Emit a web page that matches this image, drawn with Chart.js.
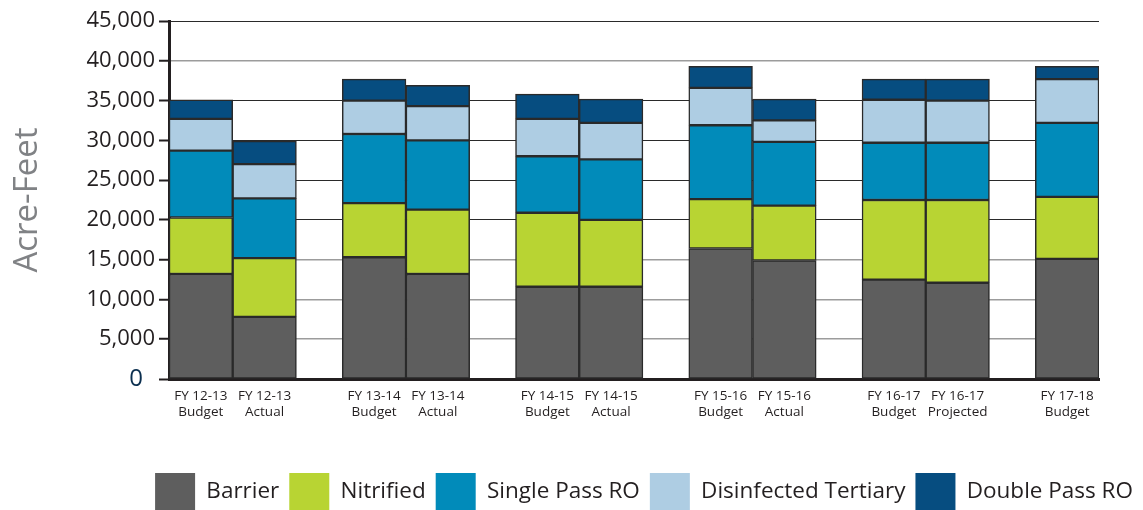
<!DOCTYPE html>
<html>
<head>
<meta charset="utf-8">
<script src="https://cdn.jsdelivr.net/npm/chart.js@4.4.0/dist/chart.umd.min.js"></script>
<style>
  html, body { margin: 0; padding: 0; background: #fff; }
  #wrap { width: 1143px; height: 510px; }
</style>
</head>
<body>
<div id="wrap"><canvas id="waterChart"></canvas></div>
<script>
// one entry per bar, two label lines each
const categories = [
    ['FY 12-13', 'Budget'], ['FY 12-13', 'Actual'],
    ['FY 13-14', 'Budget'], ['FY 13-14', 'Actual'],
    ['FY 14-15', 'Budget'], ['FY 14-15', 'Actual'],
    ['FY 15-16', 'Budget'], ['FY 15-16', 'Actual'],
    ['FY 16-17', 'Budget'], ['FY 16-17', 'Projected'],
    ['FY 17-18', 'Budget']
];
// fiscal year group of each bar (bars of one year sit side by side)
const yearGroup = [0, 0, 1, 1, 2, 2, 3, 3, 4, 4, 5];

// acre-feet per segment
const barrier      = [13200, 7800, 15300, 13200, 11600, 11600, 16400, 14900, 12500, 12100, 15100];
const nitrified    = [7100, 7400, 6800, 8100, 9300, 8400, 6200, 6900, 10000, 10400, 7800];
const singlePassRO = [8400, 7500, 8700, 8700, 7100, 7600, 9300, 8000, 7200, 7200, 9300];
const disinfected  = [4000, 4300, 4200, 4300, 4700, 4600, 4700, 2700, 5400, 5300, 5500];
const doublePassRO = [2400, 2900, 2700, 2600, 3100, 3000, 2700, 2700, 2600, 2700, 1600];

const yTicks = [0, 5000, 10000, 15000, 20000, 25000, 30000, 35000, 40000, 45000];
const lightGridValues = [5000, 10000, 15000, 40000];

const GROUP_STEP = 2.72;   // distance between fiscal years, in bar widths
const FONT = 'Open Sans';
const INK = '#231f20';

const barX = categories.map((c, i) => yearGroup[i] * GROUP_STEP + (i - 2 * yearGroup[i]));

function series(label, values, color) {
    return {
        label: label,
        data: values.map((v, i) => ({ x: barX[i], y: v })),
        backgroundColor: color,
        borderColor: '#2a2a2a',
        borderWidth: 1.5,
        borderSkipped: false,
        barPercentage: 1,
        categoryPercentage: 1
    };
}

function initChart() {
    const ctx = document.getElementById('waterChart').getContext('2d');
    return new Chart(ctx, {
        type: 'bar',
        data: {
            datasets: [
                series('Barrier', barrier, '#5e5e5e'),
                series('Nitrified', nitrified, '#b8d433'),
                series('Single Pass RO', singlePassRO, '#018bba'),
                series('Disinfected Tertiary', disinfected, '#aecde3'),
                series('Double Pass RO', doublePassRO, '#064d80')
            ]
        },
        options: {
            animation: false,
            responsive: true,
            maintainAspectRatio: false,
            devicePixelRatio: 1,
            layout: { padding: { left: 0, right: 0, top: 21, bottom: -10 } },
            scales: {
                x: {
                    type: 'linear',
                    stacked: true,
                    offset: false,
                    min: -0.5,
                    max: barX[barX.length - 1] + 0.5,
                    afterBuildTicks: (scale) => { scale.ticks = barX.map(v => ({ value: v })); },
                    afterFit: (scale) => { scale.height = 84; },
                    grid: { display: false },
                    border: { display: true, color: INK, width: 3 },
                    ticks: {
                        autoSkip: false, maxRotation: 0, minRotation: 0, padding: 1,
                        color: INK, font: { family: FONT, size: 13.5, lineHeight: 1.2 },
                        callback: (value, index) => categories[index]
                    }
                },
                y: {
                    stacked: true,
                    min: 0, max: 45000,
                    afterBuildTicks: (scale) => { scale.ticks = yTicks.map(v => ({ value: v })); },
                    afterFit: (scale) => { scale.width = 169; },
                    border: { display: true, color: INK, width: 3 },
                    grid: {
                        color: (c) => lightGridValues.includes(c.tick.value) ? '#9c9c9c' : '#2a2a2a',
                        lineWidth: (c) => lightGridValues.includes(c.tick.value) ? 1.5 : 1,
                        tickColor: INK, tickWidth: 2, tickLength: 10
                    },
                    ticks: {
                        padding: 4,
                        color: (c) => c.tick.value === 0 ? '#0b2f4f' : INK,
                        font: (c) => ({ family: FONT, size: c.tick && c.tick.value === 0 ? 24 : 22 }),
                        callback: (v) => v === 0 ? '0\u2002' : v.toLocaleString('en-US')
                    },
                    title: {
                        display: true, text: 'Acre-Feet', color: '#808285',
                        font: { family: FONT, size: 33 }, padding: { top: 8, bottom: 0 }
                    }
                },
                // empty strip so the plot ends before the right edge while the legend does not
                pad: {
                    type: 'linear', position: 'right', display: true,
                    grid: { display: false }, ticks: { display: false }, border: { display: false },
                    afterFit: (scale) => { scale.width = 44; }
                }
            },
            plugins: {
                tooltip: { enabled: false },
                legend: {
                    position: 'bottom', align: 'end',
                    labels: {
                        boxWidth: 40, boxHeight: 37, padding: 10, color: INK,
                        font: { family: FONT, size: 22.5 },
                        generateLabels: (chart) => Chart.defaults.plugins.legend.labels.generateLabels(chart)
                            .map(it => Object.assign(it, { lineWidth: 0, strokeStyle: it.fillStyle }))
                    }
                }
            }
        }
    });
}

initChart();
</script>
</body>
</html>
